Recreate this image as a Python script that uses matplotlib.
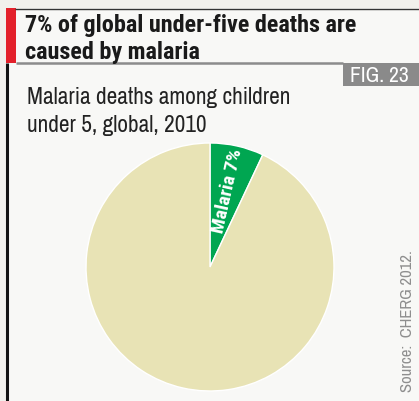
import matplotlib
matplotlib.use("Agg")
import matplotlib.pyplot as plt
from matplotlib.patches import Rectangle
from matplotlib import font_manager
import numpy as np

categories = ["Malaria", "Other causes"]
shares = [7, 93]
colors = ["#00a651", "#e8e3b5"]
title_lines = ["7% of global under-five deaths are", "caused by malaria"]
subtitle_lines = ["Malaria deaths among children", "under 5, global, 2010"]
fig_label = "FIG. 23"
source = "Source:  CHERG 2012."

names = {f.name for f in font_manager.fontManager.ttflist}


def pick(*cands):
    for c in cands:
        if c in names:
            return c
    return "DejaVu Sans"


narrow = pick("Archivo Narrow", "Roboto Condensed", "DejaVu Sans")
boldc = pick("Roboto Condensed", "Fira Sans Condensed", "IBM Plex Sans Condensed", "DejaVu Sans")

W, H = 419, 402
fig = plt.figure(figsize=(W / 100, H / 100), dpi=100)
fig.patch.set_facecolor("#f1f0ec")

bg = fig.add_axes([0, 0, 1, 1])
bg.set_xlim(0, W)
bg.set_ylim(H, 0)
bg.axis("off")
bg.add_patch(Rectangle((6, 9), W - 6, H - 9, facecolor="#f8f8f6", edgecolor="none"))
bg.plot([15, W], [9.5, 9.5], color="#333333", lw=1.0, solid_capstyle="butt")
bg.add_patch(Rectangle((6, 9), 10, 55, facecolor="#e3202a", edgecolor="none"))
bg.plot([16, 343], [64, 64], color="#8c8c8c", lw=1.8, solid_capstyle="butt")
bg.plot([6.5, 6.5], [64, H], color="#111111", lw=2.2, solid_capstyle="butt")
bg.add_patch(Rectangle((343, 64), W - 343, 23, facecolor="#8a8a8a", edgecolor="none"))
bg.text(379, 76.5, fig_label, color="white", fontsize=15.5, family=narrow,
        ha="center", va="center")
for i, line in enumerate(title_lines):
    bg.text(25, 25.5 + 27 * i, line, fontsize=17.4, family=boldc, fontweight="bold",
            color="#1a1a1a", ha="left", va="center")
for i, line in enumerate(subtitle_lines):
    bg.text(27, 97 + 28 * i, line, fontsize=16.8, family=narrow, color="#222222",
            ha="left", va="center")
bg.text(407, 321, source, fontsize=12, family=narrow, color="#8e8e8e",
        rotation=90, ha="center", va="center")

# pie: centre (210, 268), radius 124 px
r = 124
ax = fig.add_axes([(210 - r) / W, (H - 268 - r) / H, 2 * r / W, 2 * r / H])
wedges, _ = ax.pie(shares, colors=colors, startangle=90, counterclock=False,
                   wedgeprops=dict(edgecolor="white", linewidth=1.0))
ax.set_xlim(-1, 1)
ax.set_ylim(-1, 1)
ax.set_aspect("auto")

mid = 90 - shares[0] / 100 * 360 / 2
rad = np.deg2rad(mid)
rt = 0.64
ax.text(rt * np.cos(rad), rt * np.sin(rad), f"{categories[0]} {shares[0]}%",
        rotation=mid, rotation_mode="anchor", ha="center", va="center",
        color="white", fontsize=14, family=boldc, fontweight="bold")

fig.savefig("out.png", dpi=100, facecolor=fig.get_facecolor())
